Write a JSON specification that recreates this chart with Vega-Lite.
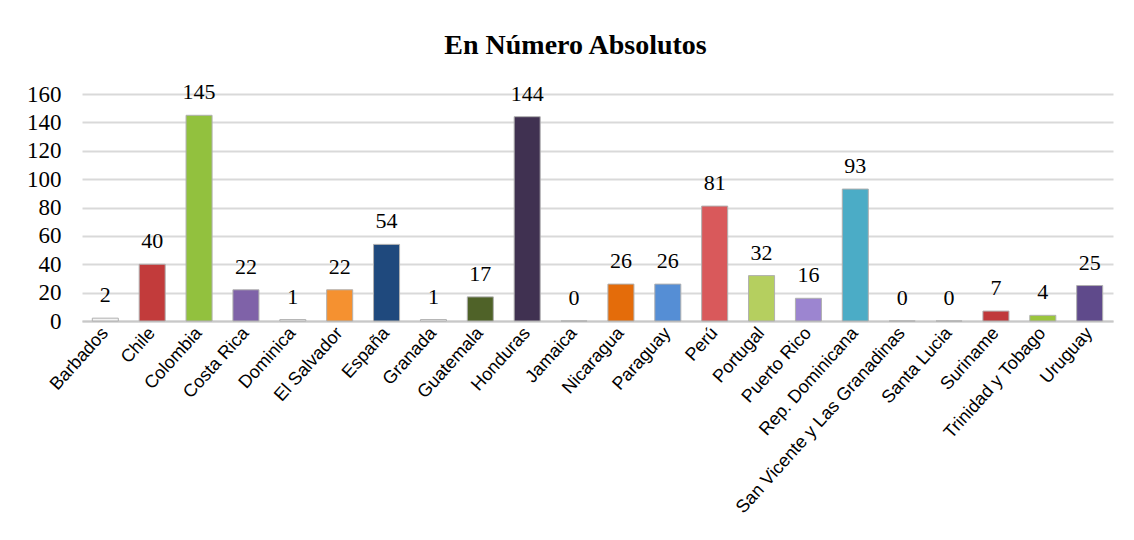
{
  "$schema": "https://vega.github.io/schema/vega-lite/v6.json",
  "autosize": "none",
  "width": 1031,
  "height": 227,
  "padding": {"left": 82, "top": 94, "right": 21, "bottom": 219},
  "background": "white",
  "config": {"view": {"stroke": null}},
  "title": {
    "text": "En Número Absolutos",
    "font": "Liberation Serif",
    "fontSize": 28,
    "fontWeight": "bold",
    "color": "#000000",
    "anchor": "middle",
    "dx": -22,
    "offset": 21
  },
  "data": {
    "values": [
      {"country": "Barbados", "value": 2},
      {"country": "Chile", "value": 40},
      {"country": "Colombia", "value": 145},
      {"country": "Costa Rica", "value": 22},
      {"country": "Dominica", "value": 1},
      {"country": "El Salvador", "value": 22},
      {"country": "España", "value": 54},
      {"country": "Granada", "value": 1},
      {"country": "Guatemala", "value": 17},
      {"country": "Honduras", "value": 144},
      {"country": "Jamaica", "value": 0},
      {"country": "Nicaragua", "value": 26},
      {"country": "Paraguay", "value": 26},
      {"country": "Perú", "value": 81},
      {"country": "Portugal", "value": 32},
      {"country": "Puerto Rico", "value": 16},
      {"country": "Rep. Dominicana", "value": 93},
      {"country": "San Vicente y Las Granadinas", "value": 0},
      {"country": "Santa Lucia", "value": 0},
      {"country": "Suriname", "value": 7},
      {"country": "Trinidad y Tobago", "value": 4},
      {"country": "Uruguay", "value": 25}
    ]
  },
  "encoding": {
    "x": {
      "field": "country",
      "type": "nominal",
      "sort": null,
      "scale": {"paddingInner": 0.445, "paddingOuter": 0.22},
      "axis": {
        "title": null,
        "labelAngle": -48,
        "labelAlign": "right",
        "labelBaseline": "middle",
        "labelFont": "Liberation Sans",
        "labelFontSize": 18,
        "labelColor": "#000000",
        "labelPadding": 9,
        "ticks": false,
        "domain": true,
        "domainColor": "#C8C8C8",
        "domainWidth": 2,
        "labelOverlap": false,
        "labelLimit": 0
      }
    },
    "y": {
      "field": "value",
      "type": "quantitative",
      "scale": {"domain": [0, 160], "nice": false},
      "axis": {
        "title": null,
        "values": [0, 20, 40, 60, 80, 100, 120, 140, 160],
        "labelFont": "Liberation Serif",
        "labelFontSize": 23,
        "labelColor": "#000000",
        "labelPadding": 21,
        "ticks": false,
        "domain": false,
        "grid": true,
        "gridColor": "#D9D9D9",
        "gridWidth": 2
      }
    }
  },
  "layer": [
    {
      "mark": {"type": "bar", "stroke": "#B0B0B0", "strokeWidth": 1},
      "encoding": {
        "color": {
          "field": "country",
          "type": "nominal",
          "legend": null,
          "scale": {
            "domain": ["Barbados", "Chile", "Colombia", "Costa Rica", "Dominica", "El Salvador", "España", "Granada", "Guatemala", "Honduras", "Jamaica", "Nicaragua", "Paraguay", "Perú", "Portugal", "Puerto Rico", "Rep. Dominicana", "San Vicente y Las Granadinas", "Santa Lucia", "Suriname", "Trinidad y Tobago", "Uruguay"],
            "range": ["#F4F4F4", "#C23B3B", "#92C13E", "#7F62A8", "#F4F4F4", "#F59130", "#1F497D", "#F4F4F4", "#4F6228", "#403151", "#FFFFFF", "#E46C0A", "#558ED5", "#D9595B", "#B5CF5F", "#9C85D0", "#4BACC6", "#FFFFFF", "#FFFFFF", "#C0393B", "#9BC53D", "#5F4A8B"]
          }
        }
      }
    },
    {
      "mark": {
        "type": "text",
        "font": "Liberation Serif",
        "fontSize": 22,
        "color": "#000000",
        "baseline": "alphabetic",
        "dy": -16
      },
      "encoding": {
        "text": {"field": "value", "type": "quantitative"}
      }
    }
  ]
}
